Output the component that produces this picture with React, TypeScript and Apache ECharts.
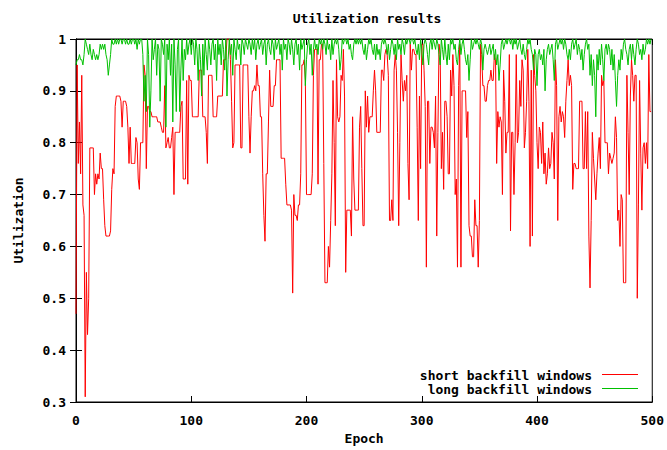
import { useEffect, useRef } from "react";
import * as echarts from "echarts";

// Axis ticks
const xTicks = [0, 100, 200, 300, 400, 500];
const yTicks = [0.3, 0.4, 0.5, 0.6, 0.7, 0.8, 0.9, 1];
const yTickLabels = ["0.3", "0.4", "0.5", "0.6", "0.7", "0.8", "0.9", "1"];

const seriesNames = ["short backfill windows", "long backfill windows"];
const seriesColors = ["#ff0000", "#00c000"];

// Utilization per epoch (epoch = index), short backfill windows
const shortWindows = [
  0.47, 0.95, 0.76, 0.84, 0.74, 0.93, 0.68, 0.66, 0.31, 0.55,
  0.43, 0.50, 0.79, 0.79, 0.79, 0.79, 0.70, 0.74, 0.72, 0.74,
  0.73, 0.78, 0.75, 0.75, 0.69, 0.64, 0.62, 0.62, 0.62, 0.62,
  0.63, 0.71, 0.75, 0.74, 0.87, 0.89, 0.89, 0.89, 0.89, 0.88,
  0.83, 0.88, 0.88, 0.88, 0.87, 0.83, 0.76, 0.83, 0.76, 0.76,
  0.76, 0.76, 0.81, 0.80, 0.73, 0.71, 0.80, 0.80, 0.80, 0.95,
  0.93, 0.75, 0.87, 0.87, 0.86, 0.86, 0.85, 0.85, 0.85, 0.85,
  0.85, 0.84, 0.84, 0.84, 0.83, 0.82, 0.82, 0.91, 0.79, 0.80,
  0.81, 0.79, 0.79, 0.81, 0.83, 0.70, 0.82, 0.82, 0.82, 0.82,
  0.82, 0.87, 0.88, 0.73, 0.73, 0.73, 0.92, 0.72, 0.93, 0.92,
  0.92, 0.85, 0.85, 0.85, 0.85, 0.85, 0.85, 0.94, 0.94, 0.94,
  0.85, 0.85, 0.85, 0.82, 0.76, 0.93, 0.93, 0.93, 0.93, 0.85,
  0.85, 0.85, 0.85, 0.89, 0.89, 0.89, 0.89, 0.89, 0.96, 0.96,
  0.96, 1.00, 1.00, 1.00, 0.96, 0.88, 0.79, 0.80, 0.95, 0.95,
  0.95, 0.95, 0.95, 0.79, 0.79, 0.95, 0.95, 0.95, 0.95, 0.95,
  0.85, 0.78, 0.85, 0.90, 0.90, 0.91, 0.90, 0.95, 0.91, 0.91,
  0.85, 0.85, 0.74, 0.66, 0.61, 0.74, 0.74, 0.84, 0.94, 0.87,
  0.87, 0.87, 0.91, 0.91, 0.96, 0.96, 0.96, 0.96, 0.77, 0.77,
  0.77, 0.77, 0.72, 0.68, 0.68, 0.68, 0.68, 0.67, 0.51, 0.70,
  0.66, 0.66, 0.65, 0.68, 0.68, 0.74, 0.95, 0.95, 0.96, 0.92,
  0.70, 0.70, 0.70, 0.70, 0.70, 0.74, 0.93, 0.98, 0.98, 0.98,
  0.72, 0.96, 0.96, 0.99, 0.99, 0.76, 0.53, 0.53, 0.53, 0.60,
  0.56, 0.65, 0.74, 0.92, 0.80, 0.64, 0.96, 0.85, 0.84, 0.85,
  0.93, 0.92, 0.98, 0.89, 0.55, 0.67, 0.67, 0.67, 0.67, 0.62,
  0.85, 0.73, 0.67, 0.67, 0.67, 0.67, 0.83, 0.87, 0.75, 0.64,
  0.64, 0.90, 0.83, 0.89, 0.82, 0.85, 0.85, 0.85, 0.90, 0.94,
  0.90, 0.82, 0.82, 0.82, 0.82, 0.94, 0.94, 0.92, 0.97, 0.98,
  0.97, 0.93, 0.65, 0.65, 0.69, 0.65, 0.94, 0.97, 0.94, 0.82,
  0.64, 0.80, 0.97, 0.92, 0.88, 0.92, 0.90, 0.93, 0.76, 0.69,
  0.99, 0.94, 0.98, 0.98, 0.97, 0.97, 0.83, 0.65, 0.89, 0.75,
  0.99, 0.99, 0.94, 0.87, 0.56, 0.88, 0.88, 0.76, 0.83, 0.83,
  0.82, 0.79, 0.89, 0.62, 0.82, 0.99, 0.97, 0.75, 0.82, 0.71,
  0.88, 0.88, 0.85, 0.74, 0.74, 0.94, 0.89, 0.97, 0.91, 0.70,
  0.73, 0.56, 0.91, 0.99, 0.56, 0.90, 0.90, 0.90, 0.90, 0.81,
  0.86, 0.64, 0.62, 0.62, 0.58, 0.58, 0.69, 0.64, 0.64, 0.56,
  0.65, 0.99, 0.97, 0.91, 0.91, 0.88, 0.88, 0.91, 0.92, 0.92,
  0.94, 0.92, 0.92, 0.97, 0.96, 0.76, 0.86, 0.83, 0.85, 0.84,
  0.70, 0.94, 0.88, 0.78, 0.82, 0.82, 0.97, 0.63, 0.82, 0.82,
  0.70, 0.80, 0.97, 0.80, 0.82, 0.92, 0.87, 0.96, 0.94, 0.79,
  0.82, 0.88, 0.98, 0.88, 0.60, 0.94, 0.62, 0.97, 0.93, 0.90,
  0.80, 0.75, 0.83, 0.82, 0.76, 0.84, 0.74, 0.78, 0.72, 0.74,
  0.79, 0.75, 0.76, 0.82, 0.80, 0.73, 0.96, 0.91, 0.65, 0.85,
  0.87, 0.84, 0.86, 0.85, 0.81, 0.88, 0.92, 0.96, 0.91, 0.93,
  0.91, 0.71, 0.76, 0.76, 0.75, 0.75, 0.75, 0.88, 0.88, 0.88,
  0.75, 0.75, 0.86, 0.75, 0.86, 0.62, 0.52, 0.65, 0.82, 0.77,
  0.73, 0.69, 0.74, 0.78, 0.81, 0.75, 0.93, 0.91, 0.92, 0.80,
  0.80, 0.80, 0.74, 0.78, 0.77, 0.76, 0.77, 0.78, 0.85, 0.81,
  0.65, 0.67, 0.60, 0.70, 0.69, 0.53, 0.53, 0.53, 0.93, 0.82,
  0.70, 0.89, 0.96, 0.93, 0.88, 0.93, 0.93, 0.50, 0.68, 0.92,
  0.78, 0.67, 0.79, 0.80, 0.76, 0.80, 0.75, 0.97, 0.86, 0.86,
];

// Utilization per epoch (epoch = index), long backfill windows
const longWindows = [
  0.95, 0.96, 0.96, 0.97, 0.96, 0.96, 0.95, 0.97, 1.00, 0.99,
  0.98, 0.97, 0.99, 0.97, 0.96, 0.98, 0.97, 0.96, 0.97, 0.96,
  0.97, 0.99, 0.98, 0.99, 0.98, 0.99, 0.97, 0.96, 0.93, 0.95,
  0.97, 1.00, 0.99, 0.99, 1.00, 0.99, 1.00, 0.99, 1.00, 1.00,
  0.99, 1.00, 1.00, 0.99, 1.00, 0.99, 0.99, 1.00, 0.99, 1.00,
  1.00, 0.99, 1.00, 0.98, 1.00, 0.99, 1.00, 1.00, 0.97, 0.88,
  0.93, 0.86, 1.00, 0.97, 0.83, 0.90, 1.00, 0.96, 0.98, 1.00,
  0.93, 0.99, 0.98, 0.88, 1.00, 0.99, 0.97, 1.00, 0.83, 0.99,
  0.96, 1.00, 0.93, 0.99, 0.84, 1.00, 0.95, 0.86, 0.98, 1.00,
  0.86, 0.94, 1.00, 0.92, 0.98, 0.96, 1.00, 0.97, 0.99, 1.00,
  0.97, 1.00, 0.99, 0.95, 1.00, 0.98, 0.92, 0.99, 0.96, 0.89,
  0.99, 0.93, 1.00, 0.97, 0.94, 1.00, 0.98, 0.95, 0.99, 1.00,
  0.96, 0.99, 0.92, 1.00, 0.97, 0.99, 0.95, 1.00, 0.98, 0.94,
  1.00, 0.89, 0.96, 1.00, 0.97, 0.99, 0.93, 1.00, 0.98, 0.96,
  1.00, 0.98, 0.99, 0.95, 1.00, 0.99, 0.97, 1.00, 0.99, 0.98,
  1.00, 0.99, 0.97, 1.00, 0.98, 1.00, 0.96, 0.99, 1.00, 0.98,
  0.99, 1.00, 0.97, 0.99, 1.00, 0.95, 0.99, 1.00, 0.98, 0.97,
  1.00, 0.99, 0.96, 1.00, 0.98, 0.99, 1.00, 0.97, 0.99, 0.94,
  1.00, 0.98, 0.99, 0.96, 1.00, 0.99, 0.97, 1.00, 0.98, 0.95,
  0.99, 1.00, 0.97, 0.99, 0.94, 1.00, 0.98, 0.99, 1.00, 0.91,
  0.96, 0.99, 1.00, 0.97, 0.99, 0.93, 0.98, 1.00, 0.98, 0.99,
  0.97, 1.00, 0.99, 1.00, 0.98, 1.00, 0.99, 0.97, 1.00, 0.98,
  0.99, 0.96, 1.00, 0.97, 0.99, 1.00, 0.99, 1.00, 0.98, 0.94,
  0.96, 1.00, 0.99, 1.00, 1.00, 0.99, 1.00, 0.98, 0.99, 0.97,
  0.96, 0.99, 1.00, 0.99, 1.00, 0.99, 1.00, 0.99, 1.00, 0.98,
  0.97, 0.99, 0.96, 0.98, 1.00, 0.99, 1.00, 0.98, 0.97, 0.99,
  0.96, 0.99, 0.97, 0.98, 0.96, 0.99, 1.00, 0.99, 1.00, 0.99,
  0.97, 0.99, 0.96, 0.98, 1.00, 0.99, 0.97, 0.99, 0.96, 1.00,
  0.98, 0.99, 0.97, 1.00, 0.99, 0.97, 1.00, 0.99, 1.00, 1.00,
  0.99, 1.00, 1.00, 0.99, 1.00, 0.98, 0.97, 0.99, 0.96, 1.00,
  0.98, 0.95, 0.99, 1.00, 0.99, 0.97, 0.95, 0.99, 1.00, 0.98,
  1.00, 0.99, 0.98, 1.00, 0.99, 0.97, 0.95, 1.00, 0.98, 0.96,
  1.00, 0.97, 0.95, 0.99, 0.96, 1.00, 0.99, 1.00, 0.98, 0.99,
  0.96, 0.95, 0.98, 1.00, 0.97, 0.99, 1.00, 0.98, 0.96, 0.95,
  0.97, 0.92, 0.96, 1.00, 0.98, 0.99, 1.00, 0.99, 1.00, 0.99,
  0.98, 1.00, 0.99, 0.94, 0.98, 0.99, 0.98, 0.97, 0.98, 0.99,
  0.97, 0.98, 0.99, 0.96, 0.98, 0.95, 0.97, 0.92, 0.95, 0.99,
  1.00, 0.98, 0.99, 1.00, 0.99, 1.00, 1.00, 0.99, 1.00, 0.98,
  1.00, 0.99, 1.00, 0.98, 0.99, 1.00, 0.98, 0.97, 0.99, 0.97,
  0.96, 0.98, 1.00, 0.99, 1.00, 0.98, 0.97, 0.94, 0.98, 0.97,
  0.91, 0.97, 0.98, 0.96, 0.97, 0.95, 0.98, 0.90, 0.96, 0.98,
  0.99, 0.97, 0.98, 0.99, 0.96, 0.92, 0.99, 1.00, 0.98, 0.99,
  1.00, 0.99, 1.00, 0.98, 1.00, 0.99, 0.97, 0.96, 0.98, 0.96,
  0.99, 1.00, 0.98, 0.99, 1.00, 0.97, 0.99, 0.98, 0.96, 0.98,
  0.94, 0.97, 0.99, 1.00, 0.98, 0.99, 0.93, 0.97, 0.91, 0.96,
  0.93, 0.85, 0.97, 0.94, 0.98, 0.95, 0.99, 0.96, 0.92, 0.98,
  0.99, 0.97, 0.99, 0.98, 0.95, 0.98, 0.94, 0.97, 0.92, 0.87,
  0.93, 0.96, 0.94, 0.98, 0.96, 0.99, 1.00, 0.98, 0.97, 0.95,
  0.98, 0.99, 0.96, 0.99, 0.97, 0.95, 0.98, 1.00, 0.99, 0.97,
  0.98, 0.96, 0.99, 0.97, 0.98, 1.00, 0.99, 1.00, 0.99, 1.00,
];

const FONT_FAMILY = '"DejaVu Sans Mono", "Liberation Mono", monospace';
const FONT = `bold 13px ${FONT_FAMILY}`;

export default function App() {
  const ref = useRef<HTMLDivElement>(null);

  useEffect(() => {
    if (!ref.current) return;
    const chart = echarts.init(ref.current, null, {
      renderer: "svg",
      width: 667,
      height: 450,
    });

    const labelStyle = {
      color: "#000",
      fontFamily: FONT_FAMILY,
      fontWeight: "bold" as const,
      fontSize: 13,
    };
    const tick = { show: true, inside: true, length: 6, lineStyle: { color: "#000", width: 1 } };
    const line = { show: true, lineStyle: { color: "#000", width: 1 } };
    const xRange = { min: xTicks[0], max: xTicks[xTicks.length - 1], interval: xTicks[1] - xTicks[0] };
    const yRange = { min: yTicks[0], max: yTicks[yTicks.length - 1], interval: 0.1 };

    const yLabel = (v: number) => {
      const i = yTicks.findIndex((t) => Math.abs(t - v) < 1e-6);
      return i >= 0 ? yTickLabels[i] : "";
    };

    const data = [shortWindows, longWindows];

    chart.setOption({
      animation: false,
      backgroundColor: "#ffffff",
      title: {
        text: "Utilization results",
        left: 362,
        top: 7,
        textAlign: "center",
        textStyle: { ...labelStyle },
      },
      grid: {
        left: 76,
        right: 12,
        top: 39,
        bottom: 48,
        show: true,
        borderColor: "#000",
        borderWidth: 1,
        backgroundColor: "transparent",
      },
      xAxis: [
        {
          type: "value",
          ...xRange,
          position: "bottom",
          name: "Epoch",
          nameLocation: "middle",
          nameGap: 29,
          nameTextStyle: { ...labelStyle },
          axisLine: line,
          axisTick: tick,
          axisLabel: { ...labelStyle, margin: 12 },
          splitLine: { show: false },
        },
        {
          type: "value",
          ...xRange,
          position: "top",
          axisLine: line,
          axisTick: tick,
          axisLabel: { show: false },
          splitLine: { show: false },
        },
      ],
      yAxis: [
        {
          type: "value",
          ...yRange,
          position: "left",
          name: "Utilization",
          nameLocation: "middle",
          nameGap: 51,
          nameRotate: 90,
          nameTextStyle: { ...labelStyle },
          axisLine: line,
          axisTick: tick,
          axisLabel: { ...labelStyle, margin: 10, formatter: yLabel },
          splitLine: { show: false },
        },
        {
          type: "value",
          ...yRange,
          position: "right",
          axisLine: line,
          axisTick: tick,
          axisLabel: { show: false },
          splitLine: { show: false },
        },
      ],
      series: seriesNames.map((name, k) => ({
        name,
        type: "line",
        xAxisIndex: 0,
        yAxisIndex: 0,
        showSymbol: false,
        symbol: "none",
        lineStyle: { color: seriesColors[k], width: 1 },
        itemStyle: { color: seriesColors[k] },
        data: data[k].map((v, i) => [i, v]),
      })),
      graphic: seriesNames.flatMap((name, k) => [
        {
          type: "text",
          x: 592,
          y: 375.5 + k * 14,
          style: {
            text: name,
            font: FONT,
            fill: "#000",
            align: "right",
            verticalAlign: "middle",
          },
        },
        {
          type: "line",
          shape: { x1: 602, y1: 374.5 + k * 14, x2: 638, y2: 374.5 + k * 14 },
          style: { stroke: seriesColors[k], lineWidth: 1 },
        },
      ]),
    });

    return () => chart.dispose();
  }, []);

  return (
    <div
      ref={ref}
      style={{ position: "fixed", left: 0, top: 0, width: 667, height: 450, background: "#fff" }}
    />
  );
}
